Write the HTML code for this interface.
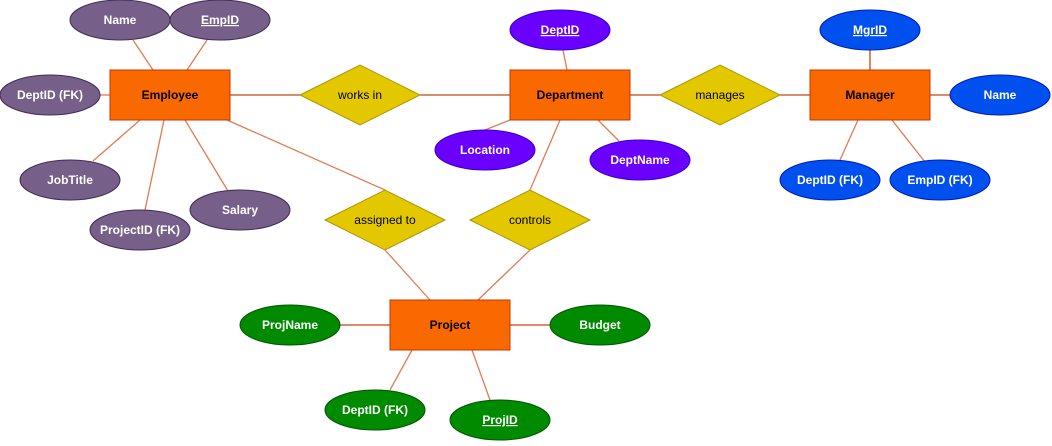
<!DOCTYPE html>
<html><head><style>body{margin:0;background:#fff}</style></head><body>
<svg width="1052" height="441" xmlns="http://www.w3.org/2000/svg" font-family="Liberation Sans, Arial, sans-serif" font-size="12">
<g stroke="#e07b53" stroke-width="1.3">
<line x1="133" y1="40" x2="153" y2="70"/><line x1="207" y1="40" x2="187" y2="70"/>
<line x1="100" y1="95" x2="110" y2="95"/>
<line x1="140" y1="120" x2="93" y2="161"/><line x1="164" y1="120" x2="145" y2="210"/><line x1="185" y1="120" x2="228" y2="191"/>
<line x1="227" y1="120" x2="385" y2="190"/>
<line x1="563" y1="50" x2="567" y2="70"/><line x1="485" y1="130" x2="510" y2="120"/><line x1="619" y1="141" x2="598" y2="120"/>
<line x1="560" y1="120" x2="530" y2="190"/>
<line x1="385" y1="250" x2="430" y2="300"/><line x1="530" y1="250" x2="478" y2="300"/>
<line x1="390" y1="390" x2="412" y2="350"/><line x1="490" y1="400" x2="472" y2="350"/>
<line x1="840" y1="160" x2="858" y2="120"/><line x1="925" y1="162" x2="892" y2="120"/>
</g>
<g stroke="#c0470f" stroke-width="1.3">
<line x1="230" y1="95" x2="300" y2="95"/><line x1="420" y1="95" x2="510" y2="95"/>
<line x1="630" y1="95" x2="660" y2="95"/><line x1="780" y1="95" x2="810" y2="95"/>
<line x1="870" y1="50" x2="870" y2="70"/><line x1="930" y1="95" x2="950" y2="95"/>
<line x1="340" y1="325" x2="390" y2="325"/><line x1="510" y1="325" x2="550" y2="325"/>
</g>
<g fill="#fa6800" stroke="#c73500">
<rect x="110" y="70" width="120" height="50"/><rect x="510" y="70" width="120" height="50"/>
<rect x="810" y="70" width="120" height="50"/><rect x="390" y="300" width="120" height="50"/>
</g>
<g font-weight="bold" text-anchor="middle" fill="#000">
<text x="170" y="99">Employee</text><text x="570" y="99">Department</text>
<text x="870" y="99">Manager</text><text x="450" y="329">Project</text>
</g>
<g fill="#e3c800" stroke="#b09500">
<polygon points="300,95 360,65 420,95 360,125"/><polygon points="660,95 720,65 780,95 720,125"/>
<polygon points="325,220 385,190 445,220 385,250"/><polygon points="470,220 530,190 590,220 530,250"/>
</g>
<g text-anchor="middle" fill="#000">
<text x="360" y="99">works in</text><text x="720" y="99">manages</text>
<text x="385" y="224">assigned to</text><text x="530" y="224">controls</text>
</g>
<g fill="#76608a" stroke="#432d57">
<ellipse cx="120" cy="20" rx="50" ry="20"/><ellipse cx="220" cy="20" rx="50" ry="20"/>
<ellipse cx="50" cy="95" rx="50" ry="20"/><ellipse cx="70" cy="180" rx="50" ry="20"/>
<ellipse cx="140" cy="230" rx="50" ry="20"/><ellipse cx="240" cy="210" rx="50" ry="20"/>
</g>
<g fill="#6a00ff" stroke="#3700cc">
<ellipse cx="560" cy="30" rx="50" ry="20"/><ellipse cx="485" cy="150" rx="50" ry="20"/><ellipse cx="640" cy="160" rx="50" ry="20"/>
</g>
<g fill="#0050ef" stroke="#001dbc">
<ellipse cx="870" cy="30" rx="50" ry="20"/><ellipse cx="1000" cy="95" rx="50" ry="20"/>
<ellipse cx="830" cy="180" rx="50" ry="20"/><ellipse cx="940" cy="180" rx="50" ry="20"/>
</g>
<g fill="#008a00" stroke="#005700">
<ellipse cx="290" cy="325" rx="50" ry="20"/><ellipse cx="600" cy="325" rx="50" ry="20"/>
<ellipse cx="375" cy="410" rx="50" ry="20"/><ellipse cx="500" cy="420" rx="50" ry="20"/>
</g>
<g fill="#fff" font-weight="bold" text-anchor="middle">
<text x="120" y="24">Name</text><text x="220" y="24" text-decoration="underline">EmpID</text>
<text x="50" y="99">DeptID (FK)</text><text x="70" y="184">JobTitle</text>
<text x="140" y="234">ProjectID (FK)</text><text x="240" y="214">Salary</text>
<text x="560" y="34" text-decoration="underline">DeptID</text><text x="485" y="154">Location</text><text x="640" y="164">DeptName</text>
<text x="870" y="34" text-decoration="underline">MgrID</text><text x="1000" y="99">Name</text>
<text x="830" y="184">DeptID (FK)</text><text x="940" y="184">EmpID (FK)</text>
<text x="290" y="329">ProjName</text><text x="600" y="329">Budget</text>
<text x="375" y="414">DeptID (FK)</text><text x="500" y="424" text-decoration="underline">ProjID</text>
</g>
</svg>
</body></html>
